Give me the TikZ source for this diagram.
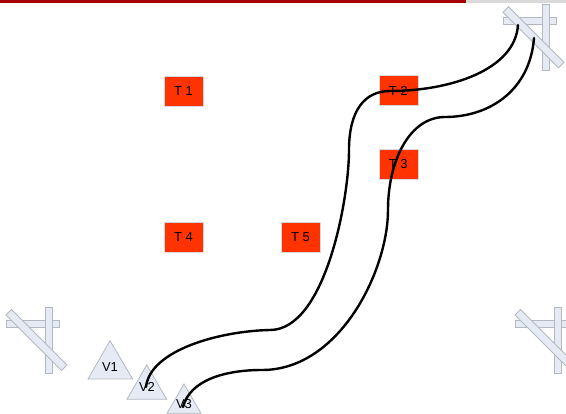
\documentclass[tikz,border=0pt]{standalone}
\usepackage{fontspec}
\setmainfont{Liberation Sans}
\definecolor{barred}{HTML}{A80000}
\definecolor{bargray}{HTML}{D9D9D9}
\definecolor{glyphfill}{HTML}{E6EAF4}
\definecolor{glyphline}{HTML}{B4B8C0}
\definecolor{boxred}{HTML}{FF3300}
\tikzset{
  barpart/.style={fill=glyphfill,draw=glyphline,line width=0.8pt},
  tbox/.style={fill=boxred,draw=bargray,line width=0.4pt,minimum width=39pt,minimum height=30pt,inner sep=0pt,font=\fontsize{13}{15}\selectfont,text=black},
  tri/.style={fill=glyphfill,draw=glyphline,line width=0.8pt,line join=miter},
  trilabel/.style={inner sep=0pt,font=\fontsize{13}{15}\selectfont,text=black},
  route/.style={draw=black,line width=2.4pt,line cap=round}
}
\newcommand{\crossglyph}[2]{%
  \begin{scope}[shift={(#1,#2)}]
    \draw[barpart] (6,320.5) rectangle (59,327);
    \draw[barpart] (45.3,307) rectangle (52.5,373);
    \draw[barpart] (11.5,309.5) -- (67,365) -- (61.5,370.5) -- (6,315) -- cycle;
  \end{scope}}
\begin{document}
\begin{tikzpicture}[x=1pt,y=-1pt]
  \useasboundingbox (0,0) rectangle (566,414);
  \clip (0,0) rectangle (566,414);
  \fill[white] (0,0) rectangle (566,414);
  \fill[barred] (0,0) rectangle (466,3);
  \fill[bargray] (466,0) rectangle (566,3);
  \crossglyph{0}{0}
  \crossglyph{497}{-302.7}
  \crossglyph{509}{0}
  \node[tbox] (t1) at (183.5,91) {T 1};
  \node[tbox] (t2) at (398.2,90.7) {T 2};
  \node[tbox] (t3) at (398.2,164) {T 3};
  \node[tbox] (t4) at (183.5,237.5) {T 4};
  \node[tbox] (t5) at (300.5,237.5) {T 5};
  \draw[tri] (110,340.7) -- (132.7,379) -- (88,379) -- cycle;
  \draw[tri] (146.7,365) -- (166.7,399.3) -- (127,399.3) -- cycle;
  \draw[tri] (184,384) -- (201,413.3) -- (167,413.3) -- cycle;
  \node[trilabel] (v1) at (110,367) {V1};
  \node[trilabel] (v2) at (147,387) {V2};
  \node[trilabel] (v3) at (184,404) {V3};
  \coordinate (a1) at (146,387);
  \coordinate (a2) at (183,407);
  \coordinate (b1) at (518,25);
  \coordinate (b2) at (534,38);
  \draw[route] (a1) .. controls (150,350) and (220,331) .. (270,330)
     .. controls (325,330) and (349,200) .. (349,150)
     .. controls (349,110) and (365,91) .. (390,91)
     .. controls (450,91) and (515,70) .. (b1);
  \draw[route] (a2) .. controls (190,380) and (225,370) .. (262,370)
     .. controls (340,370) and (388,270) .. (388,210)
     .. controls (388,160) and (410,117) .. (445,117)
     .. controls (490,117) and (530,90) .. (b2);
\end{tikzpicture}
\end{document}
